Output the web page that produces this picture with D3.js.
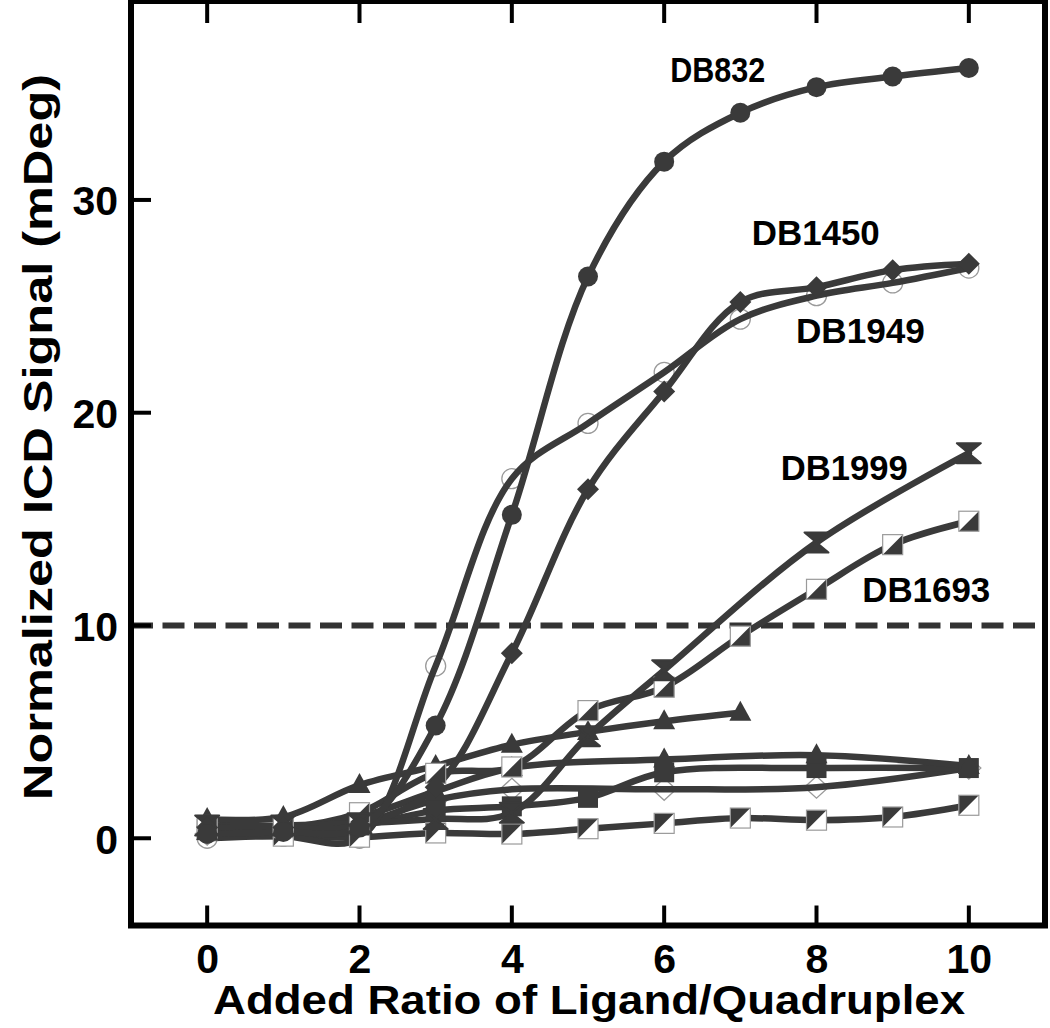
<!DOCTYPE html>
<html>
<head>
<meta charset="utf-8">
<script src="https://cdn.jsdelivr.net/npm/d3@7"></script>
<style>
  html, body { margin: 0; padding: 0; background: #fff; }
  svg { display: block; }
</style>
</head>
<body>
<svg id="chart" width="1050" height="1028"></svg>
<script>
// ---------------- DATA ----------------
const xTicks = [0, 2, 4, 6, 8, 10];
const yTicks = [0, 10, 20, 30];
const threshold = 10;

const db832X  = [0, 1, 2, 3, 4, 5, 6, 7, 8, 9, 10];
const db832Y  = [0.2, 0.3, 0.5, 5.3, 15.2, 26.4, 31.8, 34.1, 35.3, 35.8, 36.2];

const db1949X = [0, 1, 2, 3, 4, 5, 6, 7, 8, 9, 10];
const db1949Y = [0.0, 0.1, 0.0, 8.1, 16.9, 19.5, 21.9, 24.4, 25.5, 26.1, 26.8];

const db1450X = [0, 1, 2, 3, 4, 5, 6, 7, 8, 9, 10];
const db1450Y = [0.5, 0.5, 0.6, 2.4, 8.7, 16.4, 21.0, 25.2, 25.9, 26.7, 27.0];

const db1999X = [0, 1, 2, 3, 4, 5, 6, 8, 10];
const db1999Y = [0.6, 0.6, 0.7, 0.9, 1.2, 4.8, 7.9, 13.9, 18.1];

const db1693X = [0, 1, 2, 3, 4, 5, 6, 7, 8, 9, 10];
const db1693Y = [0.6, 0.5, 1.2, 3.05, 3.35, 6.0, 7.1, 9.5, 11.7, 13.8, 14.9];

const triAX = [0, 1, 2, 3, 4, 5, 6, 7];
const triAY = [0.9, 1.0, 2.5, 3.4, 4.4, 5.0, 5.5, 5.9];

const triBX = [0, 1, 2, 3, 4, 6, 8, 10];
const triBY = [0.3, 0.4, 1.0, 2.2, 3.3, 3.7, 3.9, 3.4];

const sqX = [0, 1, 2, 3, 4, 5, 6, 8, 10];
const sqY = [0.4, 0.5, 0.6, 1.3, 1.5, 1.9, 3.1, 3.3, 3.3];

const diaOX = [0, 1, 2, 3, 4, 6, 8, 10];
const diaOY = [0.2, 0.3, 0.7, 1.8, 2.3, 2.3, 2.4, 3.3];

const halfLowX = [0, 1, 2, 3, 4, 5, 6, 7, 8, 9, 10];
const halfLowY = [0.4, 0.1, 0.05, 0.25, 0.2, 0.45, 0.7, 0.95, 0.85, 1.0, 1.55];

const labelNames = ["DB832", "DB1450", "DB1949", "DB1999", "DB1693"];
const labelAtX = [6.08, 7.15, 7.73, 7.53, 8.6];
const labelAtY = [35.55, 27.9, 23.3, 16.85, 11.1];

// ---------------- SETUP ----------------
const svg = d3.select("#chart");
const x = d3.scaleLinear().domain([-1, 11]).range([131, 1045]);
const y = d3.scaleLinear().domain([-4.1, 39.35]).range([925.5, 1]);

const LINE = "#3a3a3a";
const EDGE = "#9a9a9a";

const series = [
  { xs: halfLowX, ys: halfLowY, mark: "halfB" },
  { xs: diaOX,    ys: diaOY,    mark: "diamondOpen" },
  { xs: sqX,      ys: sqY,      mark: "square" },
  { xs: triBX,    ys: triBY,    mark: "triangle" },
  { xs: triAX,    ys: triAY,    mark: "triangle" },
  { xs: db1693X,  ys: db1693Y,  mark: "halfA" },
  { xs: db1999X,  ys: db1999Y,  mark: "bowtie" },
  { xs: db1450X,  ys: db1450Y,  mark: "diamond" },
  { xs: db1949X,  ys: db1949Y,  mark: "circleOpen" },
  { xs: db832X,   ys: db832Y,   mark: "circle" }
];

const lineGen = d3.line()
  .x(d => x(d[0])).y(d => y(d[1]))
  .curve(d3.curveCatmullRom.alpha(0.5));

svg.append("defs").append("clipPath").attr("id", "plotclip")
  .append("rect").attr("x", 131).attr("y", 1).attr("width", 914).attr("height", 924.5);

const plot = svg.append("g").attr("clip-path", "url(#plotclip)");

// dashed threshold
plot.append("line")
  .attr("x1", x(-1)).attr("x2", x(11))
  .attr("y1", y(threshold)).attr("y2", y(threshold))
  .attr("stroke", "#333").attr("stroke-width", 6)
  .attr("stroke-dasharray", "22,9.5");

const markG0 = plot.append("g");
const lineG = plot.append("g");
const markG = plot.append("g");

function drawMarker(g, kind, cx, cy) {
  const t = `translate(${cx},${cy})`;
  if (kind === "circle") {
    g.append("circle").attr("cx", cx).attr("cy", cy).attr("r", 10).attr("fill", LINE);
  } else if (kind === "circleOpen") {
    g.append("circle").attr("cx", cx).attr("cy", cy).attr("r", 10)
      .attr("fill", "none").attr("stroke", EDGE).attr("stroke-width", 1.3);
  } else if (kind === "diamond") {
    g.append("path").attr("transform", t).attr("d", "M0,-11L11,0L0,11L-11,0Z").attr("fill", LINE);
  } else if (kind === "diamondOpen") {
    g.append("path").attr("transform", t).attr("d", "M0,-11L12,0L0,11L-12,0Z")
      .attr("fill", "none").attr("stroke", EDGE).attr("stroke-width", 1.3);
  } else if (kind === "square") {
    g.append("rect").attr("x", cx - 10).attr("y", cy - 10).attr("width", 20).attr("height", 20).attr("fill", LINE);
  } else if (kind === "triangle") {
    g.append("path").attr("transform", t).attr("d", "M0,-12L11,8L-11,8Z").attr("fill", LINE);
  } else if (kind === "bowtie") {
    g.append("path").attr("transform", t).attr("d", "M-12,-10L12,-10L0,0L12,10L-12,10L0,0Z")
      .attr("fill", LINE).attr("stroke", LINE).attr("stroke-width", 2).attr("stroke-linejoin", "round");
  } else if (kind === "halfA") {
    g.append("rect").attr("x", cx - 10).attr("y", cy - 10).attr("width", 20).attr("height", 20).attr("fill", "#fff");
    g.append("path").attr("transform", t).attr("d", "M10,-10L10,10L-10,10Z").attr("fill", LINE);
    g.append("rect").attr("x", cx - 10).attr("y", cy - 10).attr("width", 20).attr("height", 20)
      .attr("fill", "none").attr("stroke", EDGE).attr("stroke-width", 1.2);
  } else if (kind === "halfB") {
    g.append("rect").attr("x", cx - 10).attr("y", cy - 10).attr("width", 20).attr("height", 20).attr("fill", "#fff");
    g.append("path").attr("transform", t).attr("d", "M-10,-10L10,-10L-10,10Z").attr("fill", LINE);
    g.append("rect").attr("x", cx - 10).attr("y", cy - 10).attr("width", 20).attr("height", 20)
      .attr("fill", "none").attr("stroke", EDGE).attr("stroke-width", 1.2);
  }
}

series.forEach(s => {
  const pts = s.xs.map((v, i) => [v, s.ys[i]]);
  lineG.append("path").attr("d", lineGen(pts))
    .attr("fill", "none").attr("stroke", LINE).attr("stroke-width", 6.5)
    .attr("stroke-linejoin", "round").attr("stroke-linecap", "round");
  const g = (s.mark === "circleOpen" || s.mark === "diamondOpen") ? markG0 : markG;
  pts.forEach(p => drawMarker(g, s.mark, x(p[0]), y(p[1])));
});

// ---------------- AXES ----------------
const xAxis = d3.axisBottom(x).tickValues(xTicks).tickSize(0).tickFormat(d3.format("d"));
const yAxis = d3.axisLeft(y).tickValues(yTicks).tickSize(0).tickFormat(d3.format("d"));

const gx = svg.append("g").attr("transform", `translate(0,925.5)`).call(xAxis);
gx.select(".domain").remove();
gx.selectAll("text").attr("dy", null).attr("y", 47)
  .style("font-family", "'Liberation Sans', Arial, sans-serif")
  .style("font-weight", "bold").style("font-size", "41px").attr("fill", "#000");

const gy = svg.append("g").attr("transform", `translate(131,0)`).call(yAxis);
gy.select(".domain").remove();
gy.selectAll("text").attr("x", -13).attr("dy", "0.36em")
  .style("font-family", "'Liberation Sans', Arial, sans-serif")
  .style("font-weight", "bold").style("font-size", "41px").attr("fill", "#000");

// inward ticks
svg.append("g").selectAll("line").data(xTicks).join("line")
  .attr("x1", d => x(d)).attr("x2", d => x(d))
  .attr("y1", 925.5).attr("y2", 925.5 - 20)
  .attr("stroke", "#000").attr("stroke-width", 4);
svg.append("g").selectAll("line").data(xTicks).join("line")
  .attr("x1", d => x(d)).attr("x2", d => x(d))
  .attr("y1", 1).attr("y2", 23)
  .attr("stroke", "#000").attr("stroke-width", 4);
svg.append("g").selectAll("line").data(yTicks).join("line")
  .attr("x1", 131).attr("x2", 131 + 20)
  .attr("y1", d => y(d)).attr("y2", d => y(d))
  .attr("stroke", "#000").attr("stroke-width", 4);

// frame
svg.append("rect").attr("x", 131).attr("y", 1).attr("width", 914).attr("height", 924.5)
  .attr("fill", "none").attr("stroke", "#000").attr("stroke-width", 6);

// axis titles
svg.append("text").attr("x", 589).attr("y", 1014).attr("text-anchor", "middle")
  .attr("textLength", 752).attr("lengthAdjust", "spacingAndGlyphs")
  .style("font-family", "'Liberation Sans', Arial, sans-serif")
  .style("font-weight", "bold").style("font-size", "40px")
  .text("Added Ratio of Ligand/Quadruplex");

svg.append("text").attr("transform", "translate(52,437) rotate(-90)")
  .attr("text-anchor", "middle")
  .attr("textLength", 726).attr("lengthAdjust", "spacingAndGlyphs")
  .style("font-family", "'Liberation Sans', Arial, sans-serif")
  .style("font-weight", "bold").style("font-size", "40px")
  .text("Normalized ICD Signal (mDeg)");

// series labels
const labelWidths = [95, 128, 129, 127, 128];
svg.append("g").selectAll("text").data(labelNames).join("text")
  .attr("x", (d, i) => x(labelAtX[i]))
  .attr("y", (d, i) => y(labelAtY[i]))
  .attr("textLength", (d, i) => labelWidths[i]).attr("lengthAdjust", "spacingAndGlyphs")
  .style("font-family", "'Liberation Sans', Arial, sans-serif")
  .style("font-weight", "bold").style("font-size", "35px").attr("fill", "#000")
  .text(d => d);
</script>
</body>
</html>
